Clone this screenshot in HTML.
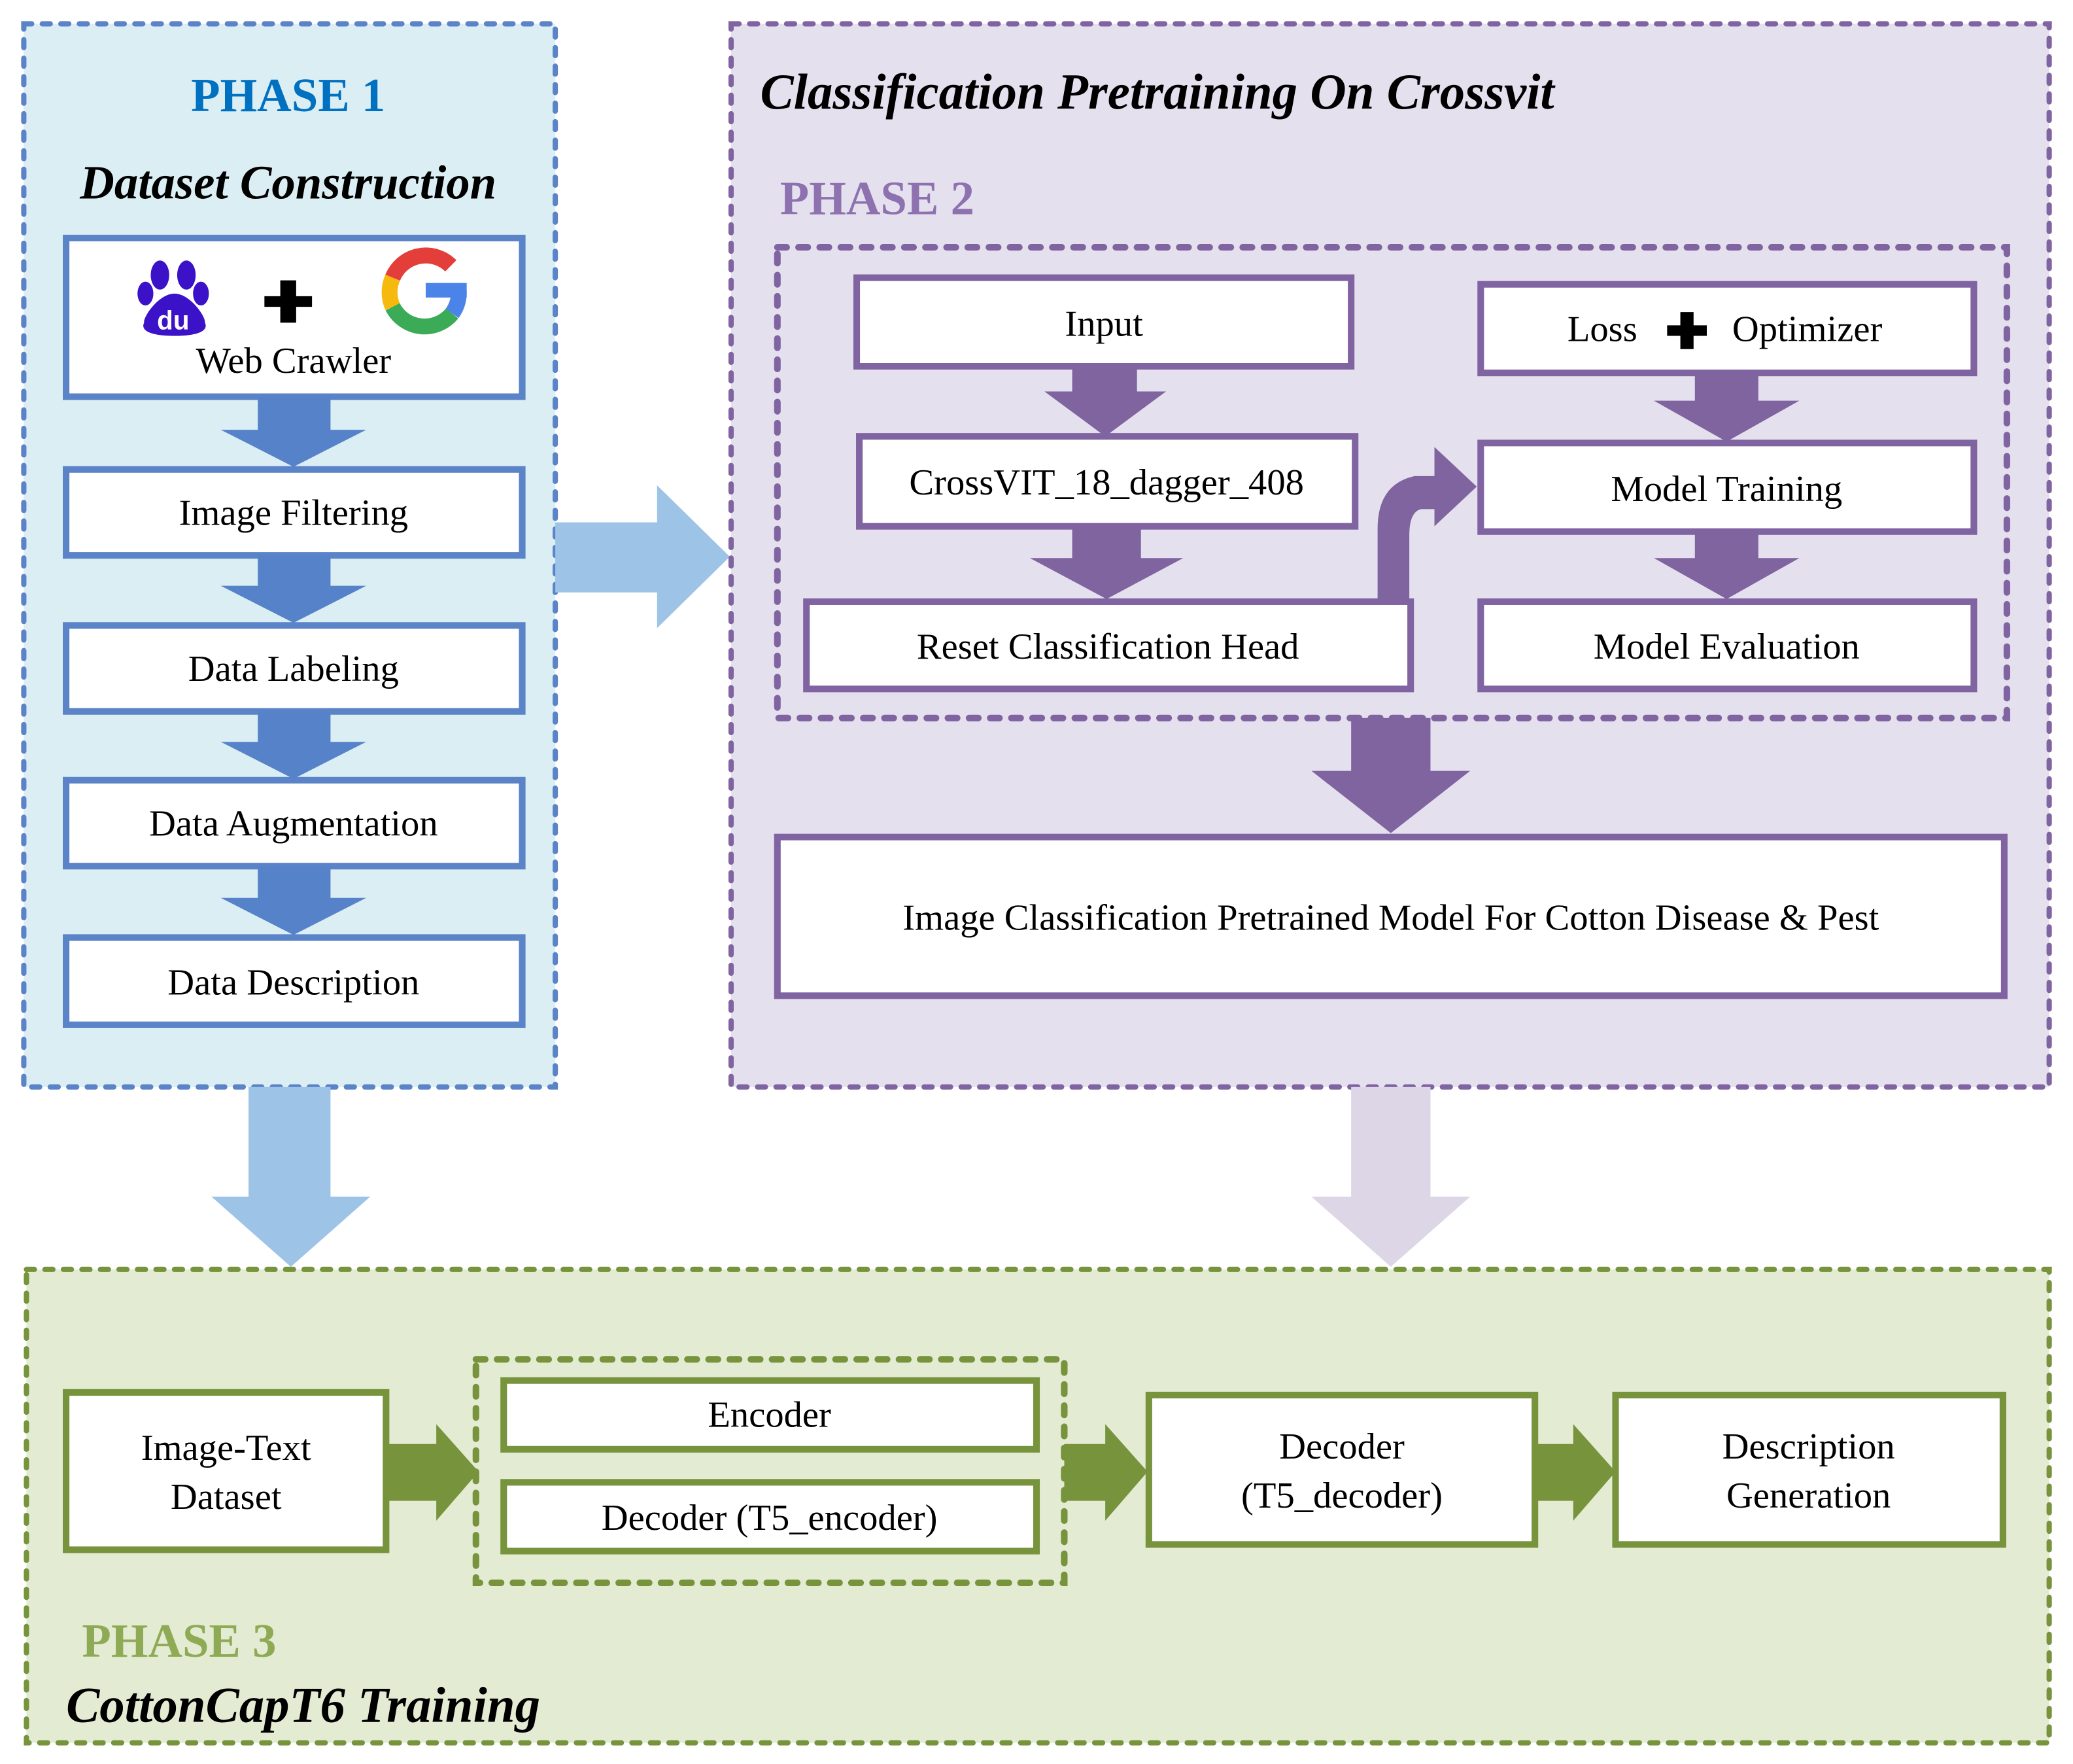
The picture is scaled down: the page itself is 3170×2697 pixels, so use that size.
<!DOCTYPE html>
<html><head><meta charset="utf-8"><style>html,body{margin:0;padding:0;background:#fff}svg{display:block}svg text{font-family:"Liberation Serif","Times New Roman","DejaVu Serif",serif}</style></head>
<body>
<svg width="3170" height="2697" viewBox="0 0 1568 1334" xmlns="http://www.w3.org/2000/svg">
<!-- Phase 1 -->
<rect x="18" y="18" width="402" height="804" fill="#dbeef4" stroke="#5b84c8" stroke-width="4" stroke-dasharray="6,8" stroke-linecap="round"/>
<text x="218" y="84" text-anchor="middle" font-size="36" font-weight="bold" fill="#0070c0">PHASE 1</text>
<text x="218" y="150" text-anchor="middle" font-size="36" font-weight="bold" font-style="italic">Dataset  Construction</text>
<g fill="#fff" stroke="#5b84c8" stroke-width="5">
<rect x="50" y="180" width="345" height="120"/>
<rect x="50" y="355" width="345" height="65"/>
<rect x="50" y="473" width="345" height="65"/>
<rect x="50" y="590" width="345" height="65"/>
<rect x="50" y="709" width="345" height="66"/>
</g>
<g fill="#5682c9">
<path d="M195,300 H250 V325 H277 L222,353 L167,325 H195 Z"/>
<path d="M195,420 H250 V443 H277 L222,471 L167,443 H195 Z"/>
<path d="M195,538 H250 V561 H277 L222,589 L167,561 H195 Z"/>
<path d="M195,655 H250 V679 H277 L222,707 L167,679 H195 Z"/>
</g>
<!-- baidu -->
<g fill="#3b12c8">
<ellipse cx="121" cy="208" rx="7" ry="11"/>
<ellipse cx="141" cy="208" rx="7" ry="11"/>
<ellipse cx="110" cy="222" rx="6" ry="9"/>
<ellipse cx="152" cy="222" rx="6" ry="9"/>
<path d="M132,222 C120,222 108,240 109,244 C106,250 114,254 132,254 C150,254 158,250 155,244 C156,240 144,222 132,222 Z"/>
</g>
<text x="131" y="249" text-anchor="middle" style="font-family:'Liberation Sans',sans-serif" font-size="20" font-weight="bold" fill="#fff">du</text>
<path d="M212,212 H224 V224 H236 V232 H224 V244 H212 V232 H200 V224 H212 Z" fill="#000"/>
<!-- google -->
<g fill="none" stroke-width="12">
<path d="M341,201 A27,27 0 0 0 297,210" stroke="#e33e3a"/>
<path d="M297,210 A27,27 0 0 0 297,232" stroke="#f6b90d"/>
<path d="M297,232 A27,27 0 0 0 342,237" stroke="#3cab58"/>
<path d="M342,237 A27,27 0 0 0 347,220" stroke="#4a84e8"/>
</g>
<rect x="322" y="214" width="31" height="11" fill="#4a84e8"/>
<g font-size="28" text-anchor="middle">
<text x="222" y="282">Web Crawler</text>
<text x="222" y="397">Image Filtering</text>
<text x="222" y="515">Data Labeling</text>
<text x="222" y="632">Data Augmentation</text>
<text x="222" y="752">Data Description</text>
</g>
<!-- arrow 1->2 -->
<path d="M420,395 H497 V367 L552,421 L497,475 V448 H420 Z" fill="#9dc3e6"/>
<!-- Phase 2 -->
<rect x="553" y="18" width="997" height="804" fill="#e5e0ee" stroke="#8064a2" stroke-width="4" stroke-dasharray="6,8" stroke-linecap="round"/>
<text x="575" y="82" font-size="38" font-weight="bold" font-style="italic">Classification Pretraining On Crossvit</text>
<text x="590" y="162" font-size="36" font-weight="bold" fill="#8e72b0">PHASE 2</text>
<rect x="588" y="187" width="930" height="356" fill="none" stroke="#8064a2" stroke-width="5" stroke-dasharray="7,9" stroke-linecap="round"/>
<g fill="#fff" stroke="#8064a2" stroke-width="5">
<rect x="648" y="210" width="374" height="67"/>
<rect x="650" y="330" width="375" height="68"/>
<rect x="610" y="455" width="457" height="66"/>
<rect x="1120" y="215" width="373" height="67"/>
<rect x="1120" y="335" width="373" height="67"/>
<rect x="1120" y="455" width="373" height="66"/>
<rect x="588" y="633" width="928" height="120"/>
</g>
<g fill="#7f64a0">
<path d="M811,277 H860 V296 H882 L836,330 L790,296 H811 Z"/>
<path d="M811,398 H863 V422 H895 L837,453 L779,422 H811 Z"/>
<path d="M1282,282 H1330 V303 H1361 L1306,334 L1251,303 H1282 Z"/>
<path d="M1282,402 H1330 V422 H1361 L1306,453 L1251,422 H1282 Z"/>
<path d="M1042,455 V400 Q1042,366 1070,360 H1085 V338 L1117,368 L1085,398 V385 H1075 Q1066,387 1066,405 V455 Z"/>
<path d="M1022,543 H1082 V583 H1112 L1052,630 L992,583 H1022 Z"/>
</g>
<path d="M1271,236 H1281 V246 H1291 V254 H1281 V264 H1271 V254 H1261 V246 H1271 Z" fill="#000"/>
<g font-size="28" text-anchor="middle">
<text x="835" y="254">Input</text>
<text x="837" y="374">CrossVIT_18_dagger_408</text>
<text x="838" y="498">Reset Classification Head</text>
<text x="1212" y="258">Loss</text>
<text x="1367" y="258">Optimizer</text>
<text x="1306" y="379">Model Training</text>
<text x="1306" y="498">Model Evaluation</text>
<text x="1052" y="703">Image Classification Pretrained Model For Cotton Disease &amp; Pest</text>
</g>
<!-- arrows to phase 3 -->
<path d="M188,822 H250 V905 H280 L220,958 L160,905 H188 Z" fill="#9dc3e6"/>
<path d="M1022,822 H1082 V905 H1112 L1052,958 L992,905 H1022 Z" fill="#dcd6e6"/>
<!-- Phase 3 -->
<rect x="20" y="960" width="1530" height="358" fill="#e3ebd3" stroke="#77933c" stroke-width="4" stroke-dasharray="6,8" stroke-linecap="round"/>
<rect x="360" y="1028" width="445" height="169" fill="none" stroke="#77933c" stroke-width="5" stroke-dasharray="7,9" stroke-linecap="round"/>
<g fill="#fff" stroke="#77933c" stroke-width="5">
<rect x="50" y="1053" width="242" height="119"/>
<rect x="381" y="1044" width="403" height="52"/>
<rect x="381" y="1121" width="403" height="52"/>
<rect x="869" y="1055" width="292" height="113"/>
<rect x="1222" y="1055" width="293" height="113"/>
</g>
<g fill="#77933c">
<path d="M292,1092 H330 V1077 L362,1113 L330,1150 V1135 H292 Z"/>
<path d="M805,1092 H836 V1077 L868,1113 L836,1150 V1135 H805 Z"/>
<path d="M1161,1092 H1190 V1077 L1222,1113 L1190,1150 V1135 H1161 Z"/>
</g>
<g font-size="28" text-anchor="middle">
<text x="171" y="1104">Image-Text</text>
<text x="171" y="1141">Dataset</text>
<text x="582" y="1079">Encoder</text>
<text x="582" y="1157">Decoder (T5_encoder)</text>
<text x="1015" y="1103">Decoder</text>
<text x="1015" y="1140">(T5_decoder)</text>
<text x="1368" y="1103">Description</text>
<text x="1368" y="1140">Generation</text>
</g>
<text x="62" y="1253" font-size="36" font-weight="bold" fill="#8faa54">PHASE 3</text>
<text x="50" y="1302" font-size="38" font-weight="bold" font-style="italic">CottonCapT6 Training</text>
</svg>
</body></html>
